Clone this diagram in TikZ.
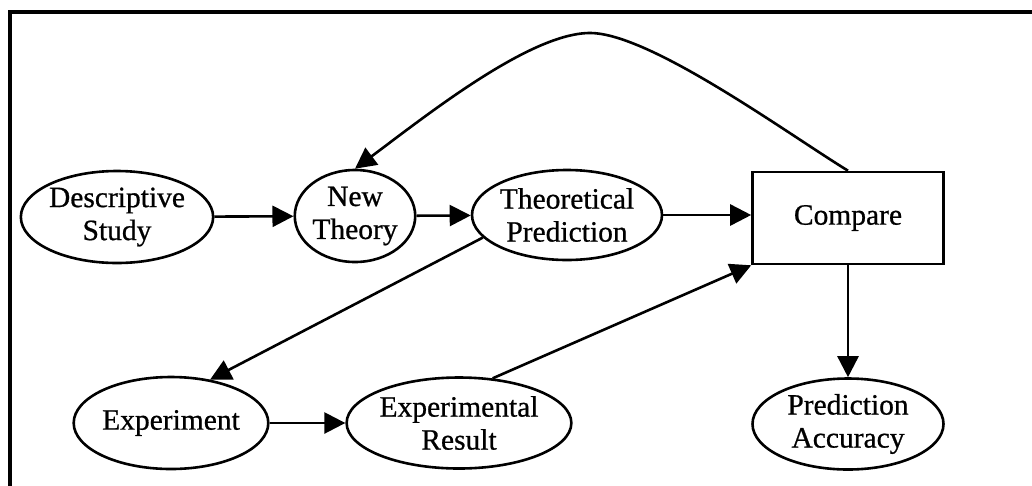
\documentclass[tikz,border=0pt]{standalone}
\usepackage{fontspec}
\setmainfont{Liberation Serif}[FakeBold=0.7]
\usetikzlibrary{shapes.geometric,arrows.meta}
\begin{document}
\begin{tikzpicture}[x=1pt,y=-1pt,
  every node/.style={font=\fontsize{29.5}{33}\selectfont, align=center, inner sep=0pt, line width=2.6pt},
  oval/.style={draw, ellipse},
  box/.style={draw, rectangle},
  arr/.style={line width=2.6pt, -{Triangle[length=21pt,width=21pt]}},
  frame/.style={line width=3.5pt}]
\useasboundingbox (0,0) rectangle (1032,485);
\draw[frame] (10,495) -- (10,12) -- (1045,12);
\node[oval, minimum width=190pt, minimum height=92pt] (ds) at (117,217) {Descriptive\\Study};
\node[oval, minimum width=96pt, minimum height=92pt] (nt) at (355,216) {New\\Theory};
\node[oval, minimum width=190pt, minimum height=90pt] (tp) at (567,215) {Theoretical\\Prediction};
\node[box, minimum width=191pt, minimum height=92pt] (cmp) at (848,218) {Compare};
\node[oval, minimum width=177pt, minimum height=92pt] (ex) at (171,423) {Experiment};
\node[oval, minimum width=212pt, minimum height=91pt] (er) at (459,423) {Experimental\\Result};
\node[oval, minimum width=191pt, minimum height=91pt] (pa) at (848,424) {Prediction\\Accuracy};
\coordinate (peak) at (590,33);
\draw[arr] (ds) -- (nt);
\draw[arr] (nt) -- (tp);
\draw[arr] (tp.east) -- (cmp.west |- tp.east);
\draw[arr] (tp.195) -- (ex.48);
\draw[arr] (ex) -- (er);
\draw[arr] (er.53) -- (cmp.south west);
\draw[arr] (cmp.south) -- (pa.north);
\draw[arr] (cmp.north) .. controls (788,134) and (650,33) .. (peak) .. controls (530,33) and (427,115) .. (nt.north);
\end{tikzpicture}
\end{document}
